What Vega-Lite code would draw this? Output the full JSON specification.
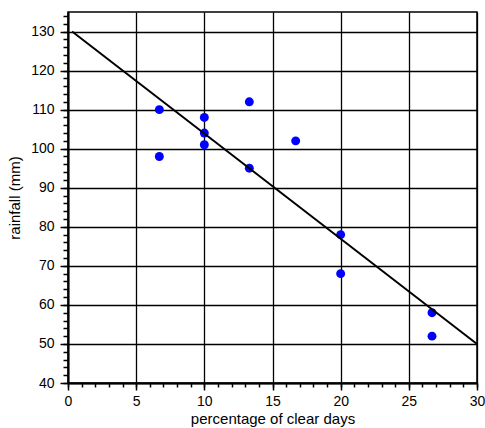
{
  "$schema": "https://vega.github.io/schema/vega-lite/v6.json",
  "width": 409,
  "height": 371,
  "autosize": "none",
  "padding": {"left": 68, "top": 12, "right": 8, "bottom": 45},
  "background": "white",
  "config": {
    "view": {"stroke": "#000", "strokeWidth": 1.5},
    "font": "Liberation Sans",
    "axis": {"labelFont": "Liberation Sans", "titleFont": "Liberation Sans", "labelColor": "#000", "titleColor": "#000", "titleFontWeight": "normal"}
  },
  "layer": [
    {
      "data": {"values": [
        {"clear": 6.7, "rainfall": 110},
        {"clear": 6.7, "rainfall": 98},
        {"clear": 10, "rainfall": 108},
        {"clear": 10, "rainfall": 104},
        {"clear": 10, "rainfall": 101},
        {"clear": 13.3, "rainfall": 112},
        {"clear": 13.3, "rainfall": 95},
        {"clear": 16.7, "rainfall": 102},
        {"clear": 20, "rainfall": 78},
        {"clear": 20, "rainfall": 68},
        {"clear": 26.7, "rainfall": 58},
        {"clear": 26.7, "rainfall": 52}
      ]},
      "mark": {"type": "point", "shape": "circle", "filled": true, "color": "#0000ff", "opacity": 1, "size": 80},
      "encoding": {
        "x": {"field": "clear", "type": "quantitative", "scale": {"domain": [0, 30], "nice": false, "zero": false},
          "axis": {"orient": "bottom", "values": [0, 5, 10, 15, 20, 25, 30], "title": "percentage of clear days", "titleFontSize": 15, "labelFontSize": 14, "grid": true, "gridColor": "#000", "gridOpacity": 1, "gridWidth": 1.3, "domainColor": "#000", "domainWidth": 2, "tickColor": "#000", "tickWidth": 1.5, "tickSize": 7, "labelPadding": 4, "titlePadding": 3, "labelFlush": false}},
        "y": {"field": "rainfall", "type": "quantitative", "scale": {"domain": [40, 135], "nice": false, "zero": false},
          "axis": {"orient": "left", "values": [40, 50, 60, 70, 80, 90, 100, 110, 120, 130], "title": "rainfall (mm)", "titleFontSize": 15, "labelFontSize": 14, "grid": true, "gridColor": "#000", "gridOpacity": 1, "gridWidth": 1.3, "domainColor": "#000", "domainWidth": 2, "tickColor": "#000", "tickWidth": 1.5, "tickSize": 8, "labelPadding": 6, "titlePadding": 8}}
      }
    },
    {
      "data": {"values": [
        {"clear": 0.3, "rainfall": 130},
        {"clear": 30, "rainfall": 50}
      ]},
      "mark": {"type": "line", "color": "#000", "strokeWidth": 2},
      "encoding": {
        "x": {"field": "clear", "type": "quantitative",
          "axis": {"orient": "bottom", "values": [0,1,2,3,4,5,6,7,8,9,10,11,12,13,14,15,16,17,18,19,20,21,22,23,24,25,26,27,28,29,30], "labels": false, "title": null, "grid": false, "domain": false, "tickColor": "#000", "tickWidth": 1.5, "tickSize": 4}},
        "y": {"field": "rainfall", "type": "quantitative",
          "axis": {"orient": "left", "values": [40,42,44,46,48,50,52,54,56,58,60,62,64,66,68,70,72,74,76,78,80,82,84,86,88,90,92,94,96,98,100,102,104,106,108,110,112,114,116,118,120,122,124,126,128,130,132,134], "labels": false, "title": null, "grid": false, "domain": false, "tickColor": "#000", "tickWidth": 1.5, "tickSize": 5}}
      }
    }
  ],
  "resolve": {"axis": {"x": "independent", "y": "independent"}}
}
